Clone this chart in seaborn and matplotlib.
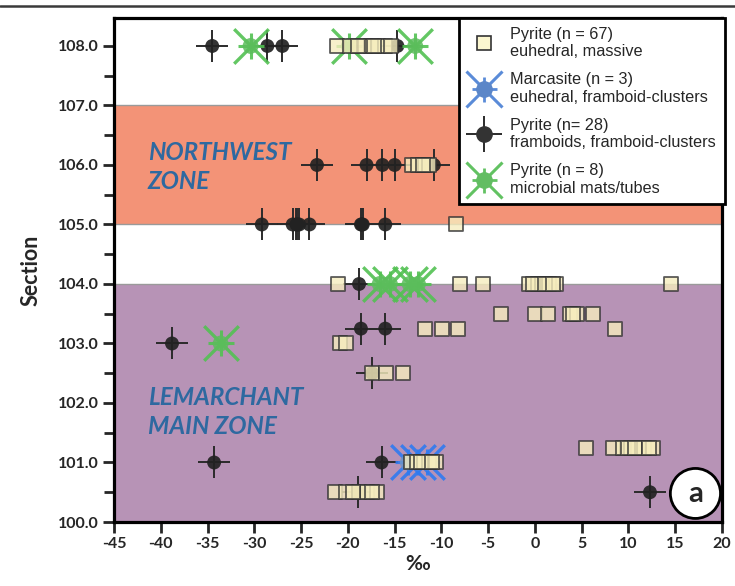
import matplotlib
matplotlib.use("Agg")
import matplotlib.pyplot as plt
from matplotlib.lines import Line2D
from matplotlib.patches import Ellipse
from matplotlib.ticker import MultipleLocator, FormatStrFormatter
import seaborn as sns
import pandas as pd

# --- data: delta values (per mil) by stratigraphic section ---
pyrite_x = [-21.2, -19.8, -18.2, -17.5, -16.8, -16.0, -15.4, -18.9, -17.2,
            -13.1, -12.5, -11.8, -11.3, -12.0,
            -8.4,
            -21.0, -8.0, -5.5, -0.6, 0.3, 0.8, 1.5, 2.3, 14.6, -0.2, 1.1, 1.9,
            -3.6, 0.0, 1.4, 3.8, 4.5, 6.2, 4.1,
            -11.8, -9.9, -8.2, 8.6,
            -20.8, -20.2,
            -17.4, -15.9, -14.1,
            5.5, 8.4, 9.4, 10.3, 11.0, 11.7, 12.6, 9.9, 10.7, 12.2,
            -13.3, -12.6, -11.9, -11.3, -10.6, -12.2, -11.0,
            -21.4, -20.2, -18.8, -17.9, -16.9, -19.5, -17.4]
pyrite_y = ([108.0] * 9 + [106.0] * 5 + [105.0] * 1 + [104.0] * 12 +
            [103.5] * 7 + [103.25] * 4 + [103.0] * 2 + [102.5] * 3 +
            [101.25] * 10 + [101.0] * 7 + [100.5] * 7)

framboid_x = [-34.5, -28.6, -27.0, -14.7,
              -23.3, -18.0, -16.3, -15.0, -10.8,
              -29.2, -25.9, -25.5, -25.2, -24.1, -18.6, -18.4, -16.0, -25.4, -18.5,
              -18.8,
              -18.6, -16.0,
              -38.8,
              -17.4,
              -34.3, -16.4,
              -18.9, 12.3]
framboid_y = ([108.0] * 4 + [106.0] * 5 + [105.0] * 10 + [104.0] * 1 +
              [103.25] * 2 + [103.0] * 1 + [102.5] * 1 + [101.0] * 2 + [100.5] * 2)

microbial_x = [-30.4, -19.9, -12.8, -16.6, -15.5, -13.4, -12.5, -33.6]
microbial_y = [108.0, 108.0, 108.0, 104.0, 104.0, 104.0, 104.0, 103.0]

marcasite_x = [-13.6, -12.5, -11.5]
marcasite_y = [101.0, 101.0, 101.0]

legend_labels = ["Pyrite (n = 67)\neuhedral, massive",
                 "Marcasite (n = 3)\neuhedral, framboid-clusters",
                 "Pyrite (n= 28)\nframboids, framboid-clusters",
                 "Pyrite (n = 8)\nmicrobial mats/tubes"]

x_ticks = list(range(-45, 21, 5))

pyrite = pd.DataFrame({"d": pyrite_x, "section": pyrite_y})
framboid = pd.DataFrame({"d": framboid_x, "section": framboid_y})
microbial = pd.DataFrame({"d": microbial_x, "section": microbial_y})
marcasite = pd.DataFrame({"d": marcasite_x, "section": marcasite_y})

sns.set_style("ticks")
plt.rcParams["font.family"] = ["Lato", "DejaVu Sans"]

CREAM = "#F6EDBE"
DARK = "#222222"
GREEN = "#52C152"
GREEN_FILL = "#5CBD5C"
BLUE = "#2F7AF0"
BLUE_FILL = "#6B93C9"
SALMON = "#F39377"
PURPLE = "#B793B6"
ZONE_TXT = "#2E69A0"

fig = plt.figure(figsize=(7.35, 5.86), dpi=100)
ax = fig.add_axes([114 / 735, 1 - 522 / 586, 608 / 735, 504 / 586])

# zone bands
ax.axhspan(105, 107, color=SALMON, lw=0, zorder=0)
ax.axhspan(100, 104, color=PURPLE, lw=0, zorder=0)
for yb in (104, 105, 107):
    ax.axhline(yb, color="#9a9a9a", lw=1.0, zorder=0.5)

# framboids: dark disc with a cross-hair
sns.scatterplot(data=framboid, x="d", y="section", ax=ax, marker="+", s=560,
                color="#2b2b2b", linewidth=1.4, zorder=2, legend=False)
sns.scatterplot(data=framboid, x="d", y="section", ax=ax, marker="o", s=100,
                color=DARK, edgecolor="none", alpha=0.92, zorder=2.1, legend=False)

# microbial mats: green disc with star rays
sns.scatterplot(data=microbial, x="d", y="section", ax=ax, marker="x", s=620,
                color=GREEN, linewidth=2.4, alpha=0.9, zorder=3, legend=False)
sns.scatterplot(data=microbial, x="d", y="section", ax=ax, marker="+", s=330,
                color=GREEN, linewidth=2.2, alpha=0.9, zorder=3, legend=False)
sns.scatterplot(data=microbial, x="d", y="section", ax=ax, marker="o", s=130,
                color=GREEN_FILL, edgecolor="none", alpha=0.85, zorder=3.1, legend=False)

# marcasite: blue disc with star rays
sns.scatterplot(data=marcasite, x="d", y="section", ax=ax, marker="x", s=620,
                color=BLUE, linewidth=2.4, alpha=0.9, zorder=3, legend=False)
sns.scatterplot(data=marcasite, x="d", y="section", ax=ax, marker="+", s=330,
                color=BLUE, linewidth=2.2, alpha=0.9, zorder=3, legend=False)
sns.scatterplot(data=marcasite, x="d", y="section", ax=ax, marker="o", s=130,
                color=BLUE_FILL, edgecolor="none", alpha=0.85, zorder=3.1, legend=False)

# euhedral / massive pyrite squares
sns.scatterplot(data=pyrite, x="d", y="section", ax=ax, marker="s", s=90,
                color=CREAM, edgecolor="#333333", linewidth=1.3, alpha=0.8,
                zorder=4, legend=False)

# zone labels
ax.text(-41.4, 105.97, "NORTHWEST\nZONE", color=ZONE_TXT, fontsize=17.5,
        fontweight="bold", fontstyle="italic", ha="left", va="center",
        linespacing=1.3, zorder=5)
ax.text(-41.4, 101.85, "LEMARCHANT\nMAIN ZONE", color=ZONE_TXT, fontsize=17.5,
        fontweight="bold", fontstyle="italic", ha="left", va="center",
        linespacing=1.3, zorder=5)

# panel tag
ax.add_patch(Ellipse((17.16, 100.48), 50 / 9.32, 50 / 59.5, facecolor="white",
                     edgecolor="black", lw=2.0, zorder=6))
ax.text(17.16, 100.47, "a", fontsize=21, fontweight="bold", ha="center",
        va="center", zorder=7)

# axes
ax.set_xlim(-45, 20)
ax.set_ylim(100, 108.47)
ax.set_xticks(x_ticks)
ax.set_xticklabels([str(t) for t in x_ticks])
ax.yaxis.set_major_locator(MultipleLocator(1))
ax.yaxis.set_minor_locator(MultipleLocator(0.5))
ax.yaxis.set_major_formatter(FormatStrFormatter("%.1f"))
ax.tick_params(axis="both", which="major", direction="out", length=8, width=2,
               labelsize=11.5, pad=3)
ax.tick_params(axis="y", which="minor", direction="out", length=7, width=2)
for lab in ax.get_xticklabels() + ax.get_yticklabels():
    lab.set_fontweight("bold")
for sp in ax.spines.values():
    sp.set_linewidth(2.3)
    sp.set_color("black")
    sp.set_visible(True)
ax.set_xlabel("‰", fontsize=15, fontweight="bold", labelpad=2)
ax.set_ylabel("Section", fontsize=15.5, fontweight="bold", labelpad=12)

# legend
h_pyr = Line2D([], [], ls="none", marker="s", ms=10, mfc="#FBF6CF", mec="#333333", mew=1.2)
h_mar = (Line2D([], [], ls="none", marker="x", ms=26, mec="#5A8BD8", mew=2.2),
         Line2D([], [], ls="none", marker="+", ms=18, mec="#5A8BD8", mew=2.0),
         Line2D([], [], ls="none", marker="o", ms=11, mfc="#5B86C8", mec="#5B86C8"))
h_fra = (Line2D([], [], ls="none", marker="+", ms=26, mec="#2b2b2b", mew=1.4),
         Line2D([], [], ls="none", marker="o", ms=11, mfc="#333333", mec="#333333"))
h_mic = (Line2D([], [], ls="none", marker="x", ms=26, mec="#62C262", mew=2.2),
         Line2D([], [], ls="none", marker="+", ms=18, mec="#62C262", mew=2.0),
         Line2D([], [], ls="none", marker="o", ms=11, mfc="#62BD62", mec="#62BD62"))
leg = ax.legend([h_pyr, h_mar, h_fra, h_mic], legend_labels,
                loc="upper right", bbox_to_anchor=(1.005, 1.0), borderaxespad=0,
                frameon=True, fancybox=False, framealpha=1, edgecolor="black",
                prop={"family": ["Liberation Sans", "DejaVu Sans"], "size": 11.7},
                handlelength=2.0, handletextpad=0.6, labelspacing=0.8,
                borderpad=0.55)
leg.get_frame().set_linewidth(2.0)
leg.set_zorder(8)

# thin rule across the top of the figure
fig.add_artist(Line2D([0, 1], [1 - 5.5 / 586, 1 - 5.5 / 586],
                      transform=fig.transFigure, color="#3a3a3a", lw=1.8))

fig.savefig("out.png", dpi=100)
